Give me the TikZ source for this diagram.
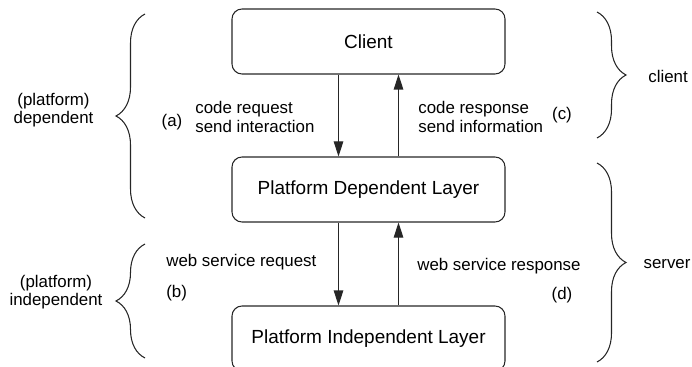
\documentclass[tikz,border=0pt]{standalone}
\usepackage{fontspec}
\setmainfont{Liberation Sans}
\usetikzlibrary{arrows.meta,decorations.pathreplacing}
\definecolor{linegray}{HTML}{262626}
\def \boxwidth {5.46 cm}
\def \boxheight {1.3 cm}
\def \arrowsep {0.6 cm}
\tikzstyle{layer}=[draw=linegray, line width=0.6pt, rounded corners=0.2cm, minimum width=\boxwidth, minimum height=\boxheight, font=\fontsize{10.8}{12}\selectfont]
\tikzstyle{annot}=[inner sep=0pt, align=left, font=\fontsize{9.6}{10.3}\selectfont]
\tikzstyle{flow}=[draw=linegray, line width=0.6pt, -{Triangle[length=3mm, width=1.9mm]}]
\tikzstyle{brace}=[draw=linegray, line width=0.6pt, decorate, decoration={brace, amplitude=0.58cm}]

\begin{document}
\begin{tikzpicture}
\useasboundingbox (0,0) rectangle (13.84,-7.34);

\node[layer] (client) at (7.37,-0.83) {Client};
\node[layer] (pdl) at (7.37,-3.79) {Platform Dependent Layer};
\node[layer] (pil) at (7.37,-6.77) {Platform Independent Layer};

\draw[flow] ([xshift=-\arrowsep]client.south) -- ([xshift=-\arrowsep]pdl.north);
\draw[flow] ([xshift=\arrowsep]pdl.north) -- ([xshift=\arrowsep]client.south);
\draw[flow] ([xshift=-\arrowsep]pdl.south) -- ([xshift=-\arrowsep]pil.north);
\draw[flow] ([xshift=\arrowsep]pil.north) -- ([xshift=\arrowsep]pdl.south);

\draw[brace] (2.9,-4.36) -- (2.9,-0.28);
\draw[brace] (2.9,-7.16) -- (2.9,-4.88);
\draw[brace] (11.94,-0.24) -- (11.94,-2.76);
\draw[brace] (11.94,-3.26) -- (11.94,-7.24);

\node[annot, align=center] (dep) at (1.07,-2.2) {(platform)\\dependent};
\node[annot, align=center] (indep) at (1.12,-5.84) {(platform)\\independent};
\node[annot] (clientlbl) at (13.36,-1.52) {client};
\node[annot] (serverlbl) at (13.34,-5.28) {server};

\node[annot] (a) at (3.44,-2.44) {(a)};
\node[annot, anchor=west] (codereq) at (3.9,-2.34) {code request\\send interaction};
\node[annot, anchor=west] (coderesp) at (8.36,-2.34) {code response\\send information};
\node[annot] (c) at (11.24,-2.3) {(c)};

\node[annot, anchor=west] (wsreq) at (3.32,-5.24) {web service request};
\node[annot, anchor=west] (b) at (3.32,-5.86) {(b)};
\node[annot, anchor=west] (wsresp) at (8.34,-5.32) {web service response};
\node[annot] (d) at (11.24,-5.9) {(d)};

\end{tikzpicture}
\end{document}
